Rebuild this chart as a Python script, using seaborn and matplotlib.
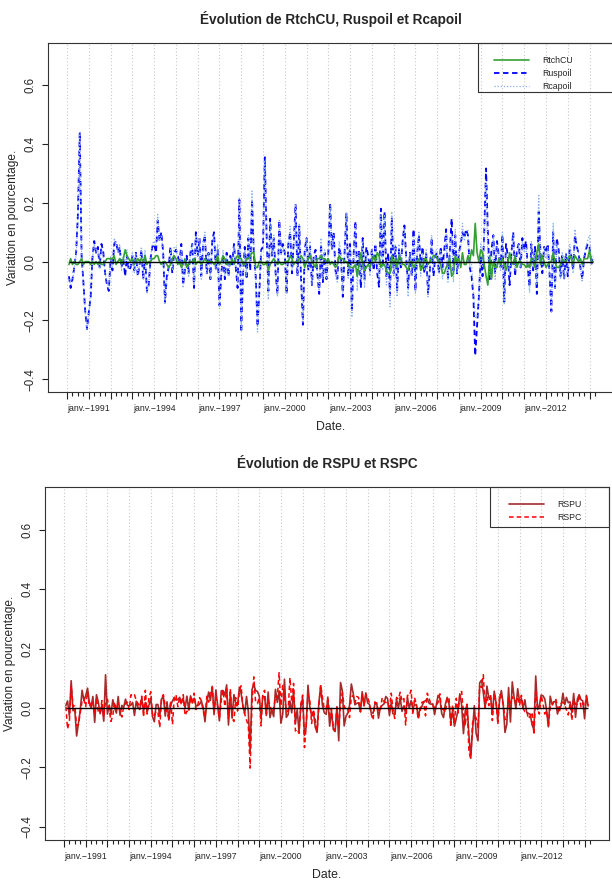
import pandas as pd
import seaborn as sns
import matplotlib.pyplot as plt
from matplotlib.patches import Rectangle

# monthly variations, Feb 1990 -> Mar 2014
ruspoil = [
    -0.05, -0.09, -0.06, -0.02, 0.03, 0.16, 0.44, 0.02, -0.07, -0.17, -0.23,
    -0.17, -0.12, 0.01, 0.07, 0.03, 0.05, -0.02, 0.06, 0.03, -0.04, -0.08, -0.10,
    0.01, -0.03, 0.06, 0.07, 0.03, 0.05, -0.02, 0.01, -0.05, 0.02, -0.03, -0.02,
    0.02, -0.03, 0.03, -0.05, -0.01, 0.04, -0.06, 0.02, -0.10, -0.08, 0.01, 0.05,
    0.06, 0.03, 0.14, 0.07, 0.10, 0.03, -0.14, -0.05, -0.02, 0.05, -0.04, 0.03,
    0.04, 0.02, -0.01, 0.06, -0.08, -0.03, 0.02, -0.04, 0.03, 0.06, -0.09, 0.10,
    0.02, 0.08, -0.05, 0.06, 0.09, -0.04, 0.03, -0.06, 0.07, 0.10, -0.03, 0.04,
    -0.15, -0.04, 0.02, -0.06, 0.03, -0.05, 0.02, -0.01, 0.06, -0.02, -0.09, 0.21,
    -0.24, -0.04, 0.05, -0.06, 0.08, -0.03, 0.21, 0.02, -0.05, -0.22, -0.10, 0.04,
    0.05, 0.355, 0.10, -0.10, 0.146, 0.02, 0.08, -0.04, -0.11, 0.14, 0.03, 0.06,
    0.03, -0.11, 0.06, 0.10, -0.04, 0.07, 0.195, -0.05, 0.12, -0.06, -0.215, 0.04,
    0.08, -0.03, 0.05, -0.08, 0.02, 0.04, -0.04, -0.11, 0.06, -0.07, 0.03, -0.06,
    0.03, 0.20, 0.04, 0.10, -0.03, -0.06, 0.05, 0.02, -0.12, 0.03, 0.166, -0.05,
    0.06, -0.17, 0.02, 0.137, -0.05, 0.04, -0.09, 0.08, -0.06, 0.05, 0.02, -0.03,
    0.04, -0.03, 0.06, -0.04, -0.086, 0.18, -0.02, 0.17, -0.05, 0.03, -0.114, 0.15,
    -0.04, 0.05, -0.10, 0.04, -0.02, 0.07, 0.123, 0.01, -0.09, 0.03, -0.05, 0.11,
    -0.10, 0.03, 0.09, -0.02, 0.05, -0.04, 0.03, -0.11, -0.03, 0.08, -0.05, 0.02,
    0.03, -0.04, 0.05, -0.02, 0.04, 0.11, -0.06, 0.03, 0.146, -0.03, 0.09, -0.04,
    0.03, 0.06, 0.10, 0.08, 0.11, 0.09, -0.02, -0.05, -0.12, -0.32, -0.22, -0.12,
    0.02, -0.05, 0.10, 0.317, 0.10, -0.06, 0.04, 0.09, -0.04, 0.07, 0.02, -0.02,
    0.09, -0.137, 0.06, 0.02, -0.08, 0.03, 0.10, -0.05, 0.04, 0.06, -0.02, 0.08,
    0.04, 0.07, -0.02, -0.086, 0.06, -0.03, 0.05, -0.11, 0.17, 0.03, -0.04, 0.05,
    0.03, 0.06, -0.04, -0.17, 0.10, -0.09, 0.08, 0.04, -0.05, 0.02, -0.06, 0.03,
    -0.05, 0.04, 0.02, -0.03, 0.09, 0.05, 0.03, -0.02, -0.06, 0.01, 0.04, 0.06,
    0.05, -0.01, 0.02,
]

rtchcu = [
    -0.01, 0.01, -0.01, 0.00, -0.01, -0.01, 0.00, 0.01, -0.01, 0.00, 0.00,
    0.00, -0.01, 0.00, -0.01, 0.00, -0.01, 0.00, -0.01, -0.01, 0.00, 0.01, 0.01,
    0.01, 0.01, 0.02, -0.01, 0.00, 0.01, -0.01, 0.01, 0.04, 0.02, 0.01, 0.00,
    0.01, -0.01, 0.00, 0.01, 0.00, 0.01, 0.00, 0.02, -0.01, 0.00, 0.00, 0.01,
    0.01, 0.02, 0.02, 0.00, -0.01, 0.00, 0.00, -0.01, -0.02, -0.01, 0.01, 0.02,
    0.01, -0.01, 0.00, -0.02, -0.01, 0.01, -0.02, -0.01, 0.00, 0.00, 0.01, -0.01,
    0.00, 0.00, -0.01, 0.00, 0.01, 0.00, 0.00, 0.00, 0.00, -0.01, 0.00, 0.02,
    -0.01, 0.00, 0.02, 0.01, -0.01, 0.00, -0.01, 0.01, -0.01, 0.01, 0.02, 0.01,
    0.01, -0.01, -0.01, 0.01, 0.01, 0.02, 0.03, 0.03, -0.02, -0.02, 0.00, 0.00,
    -0.01, -0.01, 0.00, -0.03, -0.01, 0.00, 0.01, 0.00, -0.01, 0.00, -0.01, -0.01,
    0.00, 0.00, 0.00, 0.02, 0.01, -0.01, 0.00, 0.00, 0.01, 0.02, 0.01, -0.02,
    0.00, 0.01, 0.02, 0.00, -0.01, -0.02, 0.01, 0.01, 0.02, 0.01, 0.01, 0.00,
    0.01, -0.01, 0.00, -0.01, -0.02, -0.01, 0.02, 0.01, 0.01, 0.00, 0.00, -0.01,
    -0.02, -0.02, -0.02, -0.01, -0.05, -0.01, 0.03, -0.01, -0.03, -0.02, -0.01, -0.02,
    0.00, 0.02, 0.00, 0.03, 0.02, -0.02, -0.01, -0.01, -0.03, -0.04, -0.04, 0.02,
    -0.01, 0.01, -0.02, 0.02, 0.01, -0.01, -0.01, -0.02, -0.03, 0.00, 0.00, -0.02,
    -0.01, 0.00, 0.01, -0.03, -0.02, 0.01, 0.01, -0.01, 0.00, 0.01, 0.02, 0.02,
    0.01, 0.00, -0.01, -0.04, -0.04, -0.02, -0.01, 0.01, -0.05, -0.04, 0.02, 0.00,
    0.01, -0.02, 0.03, -0.01, -0.01, 0.02, 0.00, 0.04, 0.02, 0.13, 0.03, 0.00,
    0.04, 0.03, -0.01, -0.05, -0.08, 0.02, -0.06, 0.00, -0.02, -0.02, 0.01, -0.01,
    0.01, -0.01, -0.03, -0.01, 0.03, 0.00, -0.01, 0.02, -0.02, 0.00, 0.00, -0.01,
    -0.01, -0.02, -0.01, -0.02, 0.01, 0.01, -0.02, 0.03, 0.06, -0.01, 0.02, 0.00,
    -0.02, -0.01, 0.00, 0.00, 0.03, 0.00, -0.02, -0.02, -0.01, 0.01, 0.00, 0.00,
    0.01, 0.02, 0.01, -0.01, 0.02, 0.01, 0.00, 0.01, -0.01, 0.01, 0.01, 0.01,
    0.04, 0.00, 0.00,
]

rcapoil = [
    -0.06, -0.08, -0.07, -0.02, 0.02, 0.15, 0.44, 0.03, -0.08, -0.17, -0.23,
    -0.17, -0.13, 0.01, 0.06, 0.03, 0.04, -0.02, 0.05, 0.02, -0.04, -0.07, -0.09,
    0.02, -0.02, 0.08, 0.06, 0.03, 0.06, -0.03, 0.02, -0.01, 0.04, -0.02, -0.02,
    0.03, -0.04, 0.03, -0.04, -0.01, 0.05, -0.06, 0.04, -0.11, -0.08, 0.01, 0.06,
    0.07, 0.05, 0.16, 0.07, 0.09, 0.03, -0.14, -0.06, -0.04, 0.04, -0.03, 0.05,
    0.05, 0.01, -0.01, 0.04, -0.09, -0.02, 0.00, -0.05, 0.03, 0.06, -0.08, 0.09,
    0.02, 0.08, -0.06, 0.06, 0.10, -0.04, 0.03, -0.06, 0.07, 0.09, -0.03, 0.06,
    -0.16, -0.04, 0.04, -0.05, 0.02, -0.05, 0.01, 0.00, 0.05, -0.01, -0.07, 0.22,
    -0.23, -0.05, 0.04, -0.05, 0.09, -0.01, 0.24, 0.05, -0.07, -0.24, -0.10, 0.04,
    0.04, 0.345, 0.10, -0.13, 0.136, 0.02, 0.09, -0.04, -0.12, 0.14, 0.02, 0.05,
    0.03, -0.11, 0.06, 0.12, -0.03, 0.06, 0.195, -0.05, 0.13, -0.04, -0.205, 0.02,
    0.08, -0.02, 0.07, -0.08, 0.01, 0.02, -0.03, -0.10, 0.08, -0.06, 0.04, -0.06,
    0.04, 0.19, 0.04, 0.09, -0.05, -0.07, 0.07, 0.03, -0.11, 0.03, 0.166, -0.06,
    0.04, -0.19, 0.00, 0.127, -0.10, 0.03, -0.06, 0.07, -0.09, 0.03, 0.01, -0.05,
    0.04, -0.01, 0.06, -0.01, -0.066, 0.16, -0.03, 0.16, -0.08, -0.01, -0.154, 0.17,
    -0.05, 0.06, -0.12, 0.06, -0.01, 0.06, 0.113, -0.01, -0.12, 0.03, -0.05, 0.09,
    -0.11, 0.03, 0.10, -0.05, 0.03, -0.03, 0.04, -0.12, -0.03, 0.09, -0.03, 0.04,
    0.04, -0.04, 0.04, -0.06, 0.00, 0.09, -0.07, 0.04, 0.096, -0.07, 0.11, -0.04,
    0.04, 0.04, 0.13, 0.07, 0.10, 0.11, -0.02, -0.01, -0.10, -0.19, -0.19, -0.12,
    0.06, -0.02, 0.09, 0.267, 0.02, -0.04, -0.02, 0.09, -0.06, 0.05, 0.03, -0.03,
    0.10, -0.147, 0.03, 0.01, -0.05, 0.03, 0.09, -0.03, 0.02, 0.06, -0.02, 0.07,
    0.03, 0.05, -0.03, -0.106, 0.07, -0.02, 0.03, -0.08, 0.23, 0.02, -0.02, 0.05,
    0.01, 0.05, -0.04, -0.17, 0.13, -0.09, 0.06, 0.02, -0.06, 0.03, -0.06, 0.03,
    -0.04, 0.06, 0.03, -0.04, 0.11, 0.06, 0.03, -0.01, -0.07, 0.02, 0.05, 0.07,
    0.09, -0.01, 0.02,
]

rspu = [
    0.009, 0.024, -0.027, 0.092, -0.009, -0.005, -0.094, -0.051, -0.007, 0.060, 0.025,
    0.042, 0.067, 0.022, 0.000, 0.039, -0.048, 0.045, 0.020, -0.019, 0.012, -0.044, 0.112,
    -0.020, 0.010, -0.022, 0.028, 0.001, -0.017, 0.039, -0.024, 0.009, 0.002, 0.030, 0.010,
    0.007, 0.010, 0.019, -0.025, 0.023, 0.001, -0.005, 0.034, -0.010, 0.019, -0.013, 0.010,
    0.033, -0.030, -0.046, 0.012, 0.012, -0.027, 0.031, 0.038, -0.027, 0.021, -0.040, 0.012,
    0.024, 0.036, 0.027, 0.028, 0.036, 0.021, 0.032, 0.000, 0.040, -0.005, 0.041, 0.017,
    0.033, 0.007, 0.008, 0.013, 0.023, 0.002, -0.046, 0.019, 0.054, 0.026, 0.073, -0.022,
    0.061, 0.006, -0.043, 0.058, 0.059, 0.043, 0.078, -0.057, 0.053, -0.034, 0.045, 0.016,
    0.010, 0.070, 0.050, 0.009, -0.019, 0.039, -0.012, -0.146, 0.062, 0.080, 0.059, 0.056,
    0.041, -0.032, 0.039, 0.038, -0.025, 0.054, -0.032, -0.006, -0.029, 0.063, 0.019, 0.058,
    -0.051, -0.020, 0.097, -0.031, -0.022, 0.024, -0.016, 0.061, -0.053, -0.005, -0.080, 0.004,
    0.035, -0.092, -0.064, 0.077, 0.005, -0.025, -0.011, -0.064, -0.082, 0.018, 0.075, 0.008,
    -0.016, -0.021, 0.037, -0.061, -0.009, -0.072, -0.079, 0.005, -0.110, 0.086, 0.057, -0.060,
    -0.027, -0.017, 0.008, 0.081, 0.051, 0.011, 0.016, 0.018, -0.012, 0.055, 0.007, 0.051,
    0.017, 0.012, -0.016, -0.017, 0.012, 0.018, -0.034, 0.002, 0.009, 0.014, 0.039, 0.032,
    -0.025, 0.019, -0.019, -0.020, 0.030, 0.000, 0.036, -0.011, 0.007, -0.018, 0.035, -0.001,
    0.025, 0.000, 0.011, 0.012, -0.031, 0.000, 0.005, 0.021, 0.025, 0.032, 0.016, 0.013,
    0.014, -0.022, 0.010, 0.043, 0.033, -0.018, -0.032, 0.013, 0.036, 0.015, -0.044, -0.009,
    -0.061, -0.035, -0.006, 0.048, 0.011, -0.086, -0.010, 0.012, -0.091, -0.169, -0.075, 0.008,
    -0.086, -0.110, 0.085, 0.094, 0.053, 0.000, 0.074, 0.034, 0.036, -0.020, 0.057, 0.018,
    -0.037, 0.029, 0.059, 0.015, -0.082, -0.054, 0.069, -0.047, 0.088, 0.037, -0.002, 0.065,
    0.023, 0.032, -0.001, 0.028, -0.014, -0.018, -0.021, -0.057, -0.072, 0.108, -0.005, 0.009,
    0.044, 0.041, 0.031, -0.007, -0.063, 0.040, 0.013, 0.020, 0.024, -0.020, 0.003, 0.007,
    0.050, 0.011, 0.036, 0.018, 0.021, -0.015, 0.049, -0.031, 0.030, 0.045, 0.028, 0.024,
    -0.036, 0.043, 0.007,
]

rspc = [
    0.005, -0.070, -0.045, 0.075, 0.005, 0.008, -0.060, -0.055, -0.015, 0.025, 0.030,
    0.005, 0.055, 0.005, 0.015, 0.025, -0.020, 0.035, -0.015, -0.015, 0.025, -0.030, 0.025,
    0.030, -0.005, -0.045, -0.025, 0.020, -0.005, 0.015, -0.015, -0.030, 0.005, 0.015, 0.020,
    -0.005, 0.045, 0.040, 0.045, 0.025, 0.015, 0.005, 0.040, -0.030, 0.060, -0.020, 0.035,
    0.055, -0.030, -0.025, -0.010, -0.015, -0.065, 0.035, 0.045, 0.005, -0.015, -0.035, 0.025,
    -0.055, 0.035, 0.045, 0.005, 0.035, 0.010, 0.045, -0.025, -0.010, -0.015, 0.040, 0.015,
    0.050, -0.005, 0.010, 0.035, 0.025, -0.010, -0.030, 0.040, 0.020, 0.055, 0.070, -0.010,
    0.035, 0.005, -0.035, 0.025, 0.060, 0.005, 0.065, -0.035, 0.065, -0.035, -0.045, 0.035,
    -0.010, 0.060, 0.075, 0.005, -0.020, -0.040, -0.060, -0.202, 0.015, 0.105, 0.020, 0.015,
    0.035, -0.060, 0.045, 0.060, -0.020, 0.025, 0.010, -0.015, -0.005, 0.040, 0.035, 0.119,
    0.008, 0.076, 0.038, -0.012, -0.010, 0.102, 0.021, 0.083, -0.077, -0.071, -0.085, 0.013,
    0.044, -0.133, -0.058, 0.045, 0.027, -0.052, -0.006, -0.038, -0.076, 0.007, 0.078, 0.035,
    -0.005, -0.001, 0.028, -0.024, -0.001, -0.067, -0.076, 0.001, -0.065, 0.011, 0.051, 0.007,
    -0.007, -0.002, -0.032, 0.038, 0.042, 0.018, 0.039, 0.036, -0.013, 0.047, 0.011, 0.046,
    0.037, 0.016, -0.021, -0.040, 0.021, 0.014, -0.010, -0.010, 0.035, 0.023, 0.018, 0.024,
    -0.006, 0.050, -0.004, -0.035, 0.036, 0.030, 0.053, 0.024, 0.032, -0.057, 0.043, 0.041,
    0.060, -0.022, 0.036, 0.008, -0.038, -0.011, 0.019, 0.022, -0.026, 0.050, 0.033, 0.012,
    0.010, 0.001, 0.009, 0.019, 0.048, -0.011, -0.003, -0.015, 0.032, 0.037, -0.064, 0.011,
    -0.049, 0.033, -0.017, 0.044, 0.056, -0.017, -0.060, 0.013, -0.147, -0.169, -0.050, -0.031,
    -0.033, -0.066, 0.074, 0.069, 0.112, 0.000, 0.040, 0.008, 0.048, -0.042, 0.049, 0.026,
    -0.055, 0.048, 0.035, 0.014, -0.037, -0.040, 0.037, 0.017, 0.038, 0.025, 0.022, 0.038,
    0.008, 0.043, -0.001, -0.012, -0.010, -0.036, -0.027, -0.014, -0.090, 0.054, -0.004, -0.020,
    0.042, 0.015, -0.020, -0.008, -0.063, 0.007, 0.006, 0.024, 0.031, 0.009, -0.015, 0.016,
    0.020, 0.011, -0.006, -0.023, 0.016, -0.041, 0.029, 0.013, 0.011, 0.045, 0.003, 0.017,
    0.005, 0.038, 0.009,
]

dates = pd.date_range("1990-02-01", periods=len(ruspoil), freq="MS")
year_ticks = pd.date_range("1990-01-01", "2014-01-01", freq="YS")
quarter_ticks = [d for d in pd.date_range("1990-01-01", "2014-04-01", freq="QS") if d.month != 1]
labelled_years = list(range(1991, 2013, 3))
y_ticks = [-0.4, -0.2, 0.0, 0.2, 0.4, 0.6]

sns.set_style("white")
plt.rcParams["font.family"] = ["Liberation Sans", "DejaVu Sans"]

fig = plt.figure(figsize=(6.12, 8.85), dpi=100)
ax1 = fig.add_axes([48 / 612, 1 - 392 / 885, 566 / 612, 349 / 885])
ax2 = fig.add_axes([45 / 612, 1 - 840 / 885, 564 / 612, 353 / 885])


def style_axis(ax, title):
    span = dates[-1] - dates[0]
    ax.set_xlim(dates[0] - span * 0.04, dates[-1] + span * 0.04)
    ax.set_ylim(-0.4 - 0.044, 0.7 + 0.044)
    ax.set_xticks(year_ticks)
    ax.set_xticks(quarter_ticks, minor=True)
    ax.set_xticklabels([f"janv.\u2212{d.year}" if d.year in labelled_years else "" for d in year_ticks])
    ax.set_yticks(y_ticks)
    ax.set_yticklabels([f"{v:.1f}".replace("-", "\u2212") for v in y_ticks], rotation=90, va="center")
    ax.tick_params(axis="x", which="major", length=5, width=0.8, pad=3.5, labelsize=6.3)
    ax.tick_params(axis="x", which="minor", length=3, width=0.8)
    ax.tick_params(axis="y", length=4, width=0.8, pad=4, labelsize=8.3)
    ax.tick_params(bottom=True, left=True, which="both", direction="out", color="#222222")
    ax.xaxis.grid(True, which="major", linestyle=(0, (1, 2)), color="#c8c8c8", linewidth=0.8)
    for s in ax.spines.values():
        s.set_color("#333333")
        s.set_linewidth(0.8)
    ax.set_title(title, fontsize=9.8, fontweight="bold", pad=14)
    ax.set_xlabel("Date.", fontsize=8.8, labelpad=6)
    ax.set_ylabel("Variation en pourcentage.", fontsize=8.6, labelpad=4)


# top panel
sns.lineplot(x=dates, y=ruspoil, ax=ax1, color="blue", linewidth=1.3,
             linestyle=(0, (3, 2)), label="Ruspoil")
sns.lineplot(x=dates, y=rcapoil, ax=ax1, color="#86aef0", linewidth=0.9,
             linestyle=(0, (1, 1.5)), label="Rcapoil")
sns.lineplot(x=dates, y=rtchcu, ax=ax1, color="#35a035", linewidth=1.2, label="RtchCU")
ax1.hlines(0, dates[0], dates[-1], color="black", linewidth=1.0)
style_axis(ax1, "Évolution de RtchCU, Ruspoil et Rcapoil")
h, l = ax1.get_legend_handles_labels()
order = [l.index(n) for n in ["RtchCU", "Ruspoil", "Rcapoil"]]
ax1.legend([h[i] for i in order], [l[i] for i in order], loc="upper left",
           bbox_to_anchor=(0.765, 1.0), frameon=False, fontsize=6.3,
           handlelength=4.0, handletextpad=1.5, labelspacing=0.45, borderpad=1.0)
ax1.add_patch(Rectangle((0.76, 0.86), 0.3, 0.14, transform=ax1.transAxes,
                        fill=False, edgecolor="#333333", linewidth=0.8, clip_on=False))

# bottom panel
sns.lineplot(x=dates, y=rspu, ax=ax2, color="#a52a2a", linewidth=1.2, label="RSPU")
sns.lineplot(x=dates, y=rspc, ax=ax2, color="red", linewidth=1.1,
             linestyle=(0, (3, 2)), label="RSPC")
ax2.hlines(0, dates[0], dates[-1], color="black", linewidth=1.0)
style_axis(ax2, "Évolution de RSPU et RSPC")
ax2.legend(loc="upper left", bbox_to_anchor=(0.80, 1.0), frameon=False, fontsize=6.3,
           handlelength=4.0, handletextpad=1.5, labelspacing=0.45, borderpad=1.0)
ax2.add_patch(Rectangle((0.789, 0.887), 0.211, 0.113, transform=ax2.transAxes,
                        fill=False, edgecolor="#333333", linewidth=0.8, clip_on=False))

fig.savefig("out.png", dpi=100)
